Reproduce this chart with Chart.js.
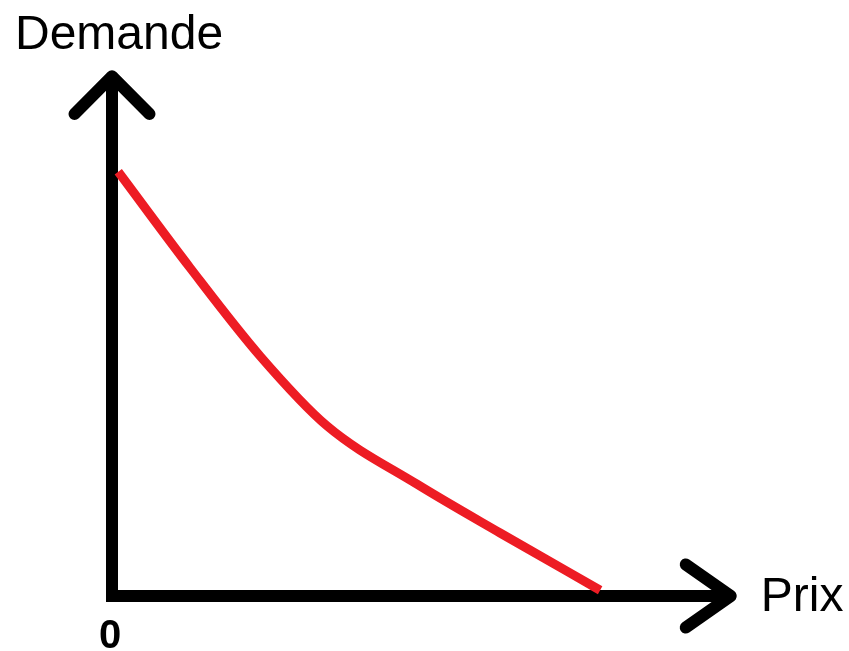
<!DOCTYPE html>
<html>
<head>
<meta charset="utf-8">
<script src="https://cdn.jsdelivr.net/npm/chart.js@4/dist/chart.umd.min.js"></script>
<style>
  html, body { margin: 0; padding: 0; background: #fff; }
  canvas { display: block; }
</style>
</head>
<body>
<canvas id="courbe" width="849" height="651"></canvas>
<script>
// Courbe de demande
const prix    = [0.1, 1.25, 2.37, 3.44, 4.88, 6.21, 7.81];
const demande = [8.08, 6.25, 4.57, 3.24, 2.13, 1.20, 0.11];

// Axes avec flèches
const axeX = [9.9, 0];      // bout de l'axe x (prix max, demande 0)
const axeY = [0, 9.9];      // bout de l'axe y
const fleche = [0.6, 0.72]; // demi-largeur / longueur des pointes

const labels = { y: 'Demande', x: 'Prix', origine: '0' };

const courbeData = prix.map((p, i) => ({ x: p, y: demande[i] }));

// axes : une seule ligne avec coin carré
const axesData = [
  { x: axeY[0], y: axeY[1] },
  { x: 0, y: 0 },
  { x: axeX[0], y: axeX[1] }
];
const pointeY = [
  { x: -fleche[0], y: axeY[1] - fleche[1] },
  { x: 0, y: axeY[1] },
  { x: fleche[0], y: axeY[1] - fleche[1] }
];
const pointeX = [
  { x: axeX[0] - fleche[1], y: fleche[0] },
  { x: axeX[0], y: 0 },
  { x: axeX[0] - fleche[1], y: -fleche[0] }
];

// textes posés par rapport aux échelles
const textes = {
  id: 'textes',
  afterDraw(chart) {
    const { ctx, scales: { x, y } } = chart;
    ctx.save();
    ctx.fillStyle = '#000';
    ctx.textBaseline = 'alphabetic';

    ctx.font = '48px "Liberation Sans", Arial, sans-serif';
    ctx.textAlign = 'left';
    ctx.fillText(labels.y, x.getPixelForValue(0) - 97, y.getPixelForValue(axeY[1]) - 27);
    ctx.fillText(labels.x, x.getPixelForValue(axeX[0]) + 30, y.getPixelForValue(0) + 15);

    ctx.font = 'bold 40px "Liberation Sans Narrow", "Liberation Sans", Arial, sans-serif';
    ctx.textAlign = 'center';
    ctx.fillText(labels.origine, x.getPixelForValue(0) - 2, y.getPixelForValue(0) + 52);
    ctx.restore();
  }
};

new Chart(document.getElementById('courbe'), {
  type: 'line',
  data: {
    datasets: [
      {
        data: courbeData,
        borderColor: '#ed1c24',
        borderWidth: 9,
        cubicInterpolationMode: 'monotone',
        pointRadius: 0,
        borderCapStyle: 'butt'
      },
      {
        data: axesData,
        borderColor: '#000',
        borderWidth: 12,
        tension: 0,
        pointRadius: 0,
        borderJoinStyle: 'miter'
      },
      {
        data: pointeY,
        borderColor: '#000',
        borderWidth: 12,
        tension: 0,
        pointRadius: 0,
        borderCapStyle: 'round',
        borderJoinStyle: 'round'
      },
      {
        data: pointeX,
        borderColor: '#000',
        borderWidth: 12,
        tension: 0,
        pointRadius: 0,
        borderCapStyle: 'round',
        borderJoinStyle: 'round'
      }
    ]
  },
  options: {
    responsive: false,
    animation: false,
    layout: { padding: { left: 49.5, right: 49.5, top: 44.75, bottom: 2.5 } },
    plugins: {
      legend: { display: false },
      tooltip: { enabled: false }
    },
    scales: {
      x: { type: 'linear', min: -1, max: 11, display: false },
      y: { type: 'linear', min: -1, max: 10.5, display: false }
    }
  },
  plugins: [textes]
});
</script>
</body>
</html>
